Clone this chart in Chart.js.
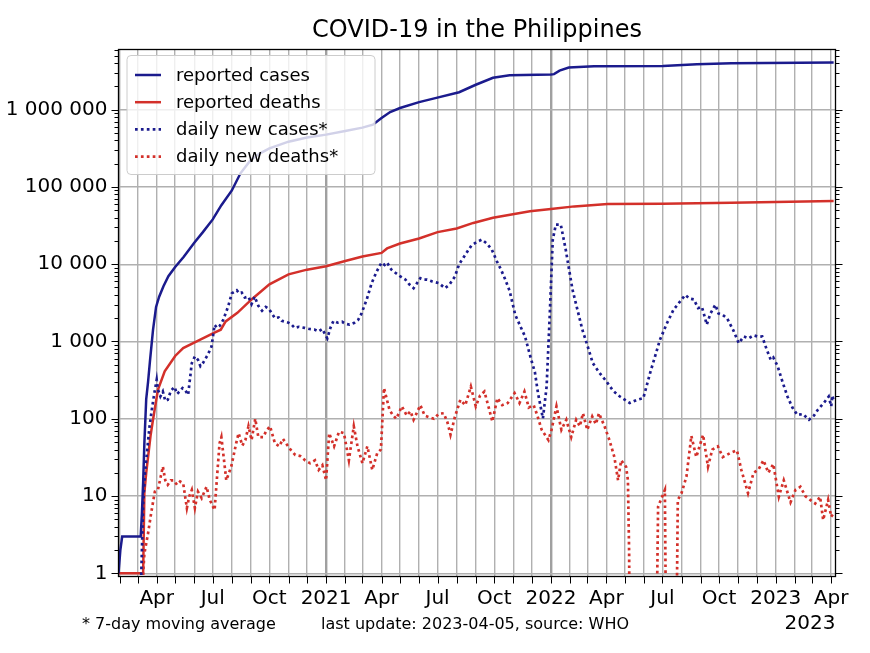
<!DOCTYPE html>
<html>
<head>
<meta charset="utf-8">
<script src="https://cdn.jsdelivr.net/npm/chart.js@4.4.1/dist/chart.umd.min.js"></script>
<style>
  html, body { margin: 0; padding: 0; background: #fff; }
  #chart { display: block; }
</style>
</head>
<body>
<canvas id="chart" width="870" height="653"></canvas>
<script>
'use strict';

const FONT = '"DejaVu Sans", sans-serif';
const BLUE = '#1b1b8d';
const RED = '#d3302a';
const GRID = '#b0b0b0';
const DAY = 86400000;

// reported cases (cumulative)
const casesDates = ['2020-01-30', '2020-02-02', '2020-02-05', '2020-03-06', '2020-03-08', '2020-03-10', '2020-03-12',
  '2020-03-15', '2020-03-18', '2020-03-21', '2020-03-26', '2020-03-31', '2020-04-05', '2020-04-12', '2020-04-20',
  '2020-05-01', '2020-05-15', '2020-06-01', '2020-06-15', '2020-07-01', '2020-07-15', '2020-08-01', '2020-08-15',
  '2020-09-01', '2020-09-15', '2020-10-01', '2020-11-01', '2020-12-01', '2021-01-01', '2021-02-01', '2021-03-01',
  '2021-03-18', '2021-04-01', '2021-04-15', '2021-05-01', '2021-06-01', '2021-06-29', '2021-08-05', '2021-09-01',
  '2021-09-29', '2021-10-26', '2022-01-01', '2022-01-06', '2022-01-15', '2022-01-30', '2022-03-12', '2022-07-02',
  '2022-08-26', '2022-10-21', '2023-04-05'];
const casesTotal = [1, 2, 3, 3, 6, 15, 48,
  180, 300, 550, 1400, 2800, 3800, 5200, 7000,
  9200, 12500, 19000, 26000, 38000, 58000, 90000, 150000,
  225000, 270000, 315000, 385000, 435000, 475000, 530000, 585000,
  640000, 780000, 930000, 1050000, 1250000, 1420000, 1680000, 2100000,
  2580000, 2790000, 2840000, 2880000, 3200000, 3500000, 3650000, 3680000,
  3880000, 3970000, 4070000];

// reported deaths (cumulative)
const deathsDates = ['2020-01-30', '2020-03-10', '2020-03-12', '2020-03-15', '2020-03-18', '2020-03-22', '2020-03-26',
  '2020-04-03', '2020-04-14', '2020-05-01', '2020-05-14', '2020-06-05', '2020-07-03', '2020-07-14', '2020-07-22',
  '2020-08-10', '2020-09-02', '2020-10-01', '2020-11-01', '2020-12-01', '2021-01-01', '2021-02-01', '2021-03-01',
  '2021-04-01', '2021-04-10', '2021-05-01', '2021-06-01', '2021-07-01', '2021-08-01', '2021-08-28', '2021-09-29',
  '2021-11-28', '2022-01-01', '2022-02-08', '2022-04-03', '2022-07-01', '2022-10-21', '2023-04-05'];
const deathsTotal = [1, 1, 11, 20, 32, 60, 97,
  237, 410, 650, 820, 1000, 1290, 1420, 1820,
  2350, 3500, 5500, 7400, 8500, 9400, 11000, 12600,
  14000, 16000, 18500, 21500, 26000, 29000, 34200, 39800,
  48300, 51900, 56000, 60300, 60500, 62500, 65500];

// daily new cases, 7-day moving average
const newCasesDates = ['2020-03-05', '2020-03-07', '2020-03-10', '2020-03-13', '2020-03-16', '2020-03-20', '2020-03-24',
  '2020-03-28', '2020-04-01', '2020-04-03', '2020-04-07', '2020-04-11', '2020-04-15', '2020-04-19', '2020-04-24',
  '2020-04-30', '2020-05-04', '2020-05-08', '2020-05-13', '2020-05-17', '2020-05-22', '2020-05-28', '2020-06-02',
  '2020-06-07', '2020-06-11', '2020-06-15', '2020-06-23', '2020-06-29', '2020-07-04', '2020-07-08', '2020-07-12',
  '2020-07-18', '2020-07-26', '2020-08-01', '2020-08-09', '2020-08-13', '2020-08-17', '2020-08-22', '2020-08-28',
  '2020-09-02', '2020-09-07', '2020-09-13', '2020-09-19', '2020-09-25', '2020-09-30', '2020-10-05', '2020-10-10',
  '2020-10-16', '2020-10-21', '2020-10-27', '2020-11-01', '2020-11-06', '2020-11-11', '2020-11-18', '2020-11-27',
  '2020-12-05', '2020-12-13', '2020-12-20', '2020-12-26', '2021-01-01', '2021-01-03', '2021-01-08', '2021-01-13',
  '2021-01-20', '2021-01-27', '2021-02-01', '2021-02-08', '2021-02-16', '2021-02-22', '2021-02-27', '2021-03-08',
  '2021-03-16', '2021-03-24', '2021-04-01', '2021-04-06', '2021-04-10', '2021-04-17', '2021-04-24', '2021-05-01',
  '2021-05-10', '2021-05-16', '2021-05-23', '2021-05-28', '2021-06-03', '2021-06-09', '2021-06-14', '2021-06-22',
  '2021-07-03', '2021-07-13', '2021-07-20', '2021-07-29', '2021-08-05', '2021-08-17', '2021-08-25', '2021-09-03',
  '2021-09-11', '2021-09-19', '2021-09-27', '2021-10-05', '2021-10-12', '2021-10-19', '2021-10-26', '2021-11-04',
  '2021-11-12', '2021-11-20', '2021-11-30', '2021-12-06', '2021-12-11', '2021-12-19', '2021-12-25', '2021-12-30',
  '2022-01-04', '2022-01-09', '2022-01-17', '2022-01-25', '2022-02-05', '2022-02-14', '2022-02-21', '2022-03-01',
  '2022-03-10', '2022-03-20', '2022-04-01', '2022-04-12', '2022-04-23', '2022-05-09', '2022-05-20', '2022-05-31',
  '2022-06-11', '2022-06-27', '2022-07-08', '2022-07-19', '2022-08-07', '2022-08-14', '2022-08-21', '2022-08-28',
  '2022-09-03', '2022-09-06', '2022-09-11', '2022-09-17', '2022-09-25', '2022-09-30', '2022-10-07', '2022-10-14',
  '2022-10-24', '2022-11-02', '2022-11-10', '2022-11-18', '2022-11-26', '2022-12-04', '2022-12-10', '2022-12-17',
  '2022-12-24', '2022-12-28', '2023-01-04', '2023-01-12', '2023-01-20', '2023-01-28', '2023-02-05', '2023-02-14',
  '2023-02-24', '2023-03-04', '2023-03-10', '2023-03-20', '2023-03-28', '2023-04-01', '2023-04-03', '2023-04-05'];
const newCases = [0, 1, 8, 20, 35, 75, 130,
  210, 320, 240, 195, 225, 170, 176, 230,
  258, 210, 224, 250, 237, 204, 525, 640,
  580, 480, 525, 675, 860, 1640, 1500, 1580,
  1900, 2840, 4200, 4600, 4200, 4300, 3700, 3800,
  3050, 3800, 2900, 2500, 2800, 2650, 2300, 2000,
  2050, 1850, 1800, 1750, 1650, 1500, 1550, 1500,
  1450, 1430, 1350, 1450, 1170, 1100, 1500, 1850,
  1750, 1800, 1700, 1650, 1750, 1900, 2250, 3500,
  5700, 8000, 10500, 9800, 10500, 8500, 7700, 7000,
  6300, 5500, 4900, 5600, 6600, 6300, 6300, 6000,
  5700, 4900, 5400, 6900, 10000, 14000, 17500, 19500,
  20800, 18500, 15500, 11000, 8500, 6300, 4500, 2220,
  1600, 1160, 580, 400, 215, 101, 260, 2100,
  20800, 32600, 32600, 15500, 4700, 2400, 1420, 900,
  525, 400, 305, 230, 194, 160, 175, 185,
  390, 1050, 1700, 2570, 4000, 3600, 3500, 2700,
  2800, 2330, 1650, 2300, 2990, 2300, 2200, 2000,
  1400, 950, 1160, 1100, 1200, 1150, 1160, 800,
  580, 620, 480, 300, 194, 140, 112, 115,
  97, 110, 130, 160, 194, 145, 200, 170];

// daily new deaths, 7-day moving average (0 = no deaths, falls below the axis)
const newDeathsDates = ['2020-03-09', '2020-03-10', '2020-03-12', '2020-03-18', '2020-03-23', '2020-03-29', '2020-04-03',
  '2020-04-11', '2020-04-15', '2020-04-19', '2020-04-24', '2020-04-28', '2020-05-04', '2020-05-09', '2020-05-14',
  '2020-05-20', '2020-05-24', '2020-05-28', '2020-06-02', '2020-06-07', '2020-06-13', '2020-06-21', '2020-06-26',
  '2020-07-04', '2020-07-12', '2020-07-15', '2020-07-23', '2020-07-31', '2020-08-08', '2020-08-12', '2020-08-18',
  '2020-08-23', '2020-08-28', '2020-09-02', '2020-09-08', '2020-09-13', '2020-09-21', '2020-09-26', '2020-10-02',
  '2020-10-10', '2020-10-17', '2020-10-23', '2020-10-28', '2020-11-04', '2020-11-12', '2020-11-20', '2020-11-28',
  '2020-12-06', '2020-12-14', '2020-12-20', '2020-12-26', '2021-01-01', '2021-01-06', '2021-01-14', '2021-01-22',
  '2021-01-30', '2021-02-07', '2021-02-15', '2021-02-21', '2021-03-01', '2021-03-09', '2021-03-17', '2021-03-25',
  '2021-03-31', '2021-04-05', '2021-04-14', '2021-04-20', '2021-04-25', '2021-05-04', '2021-05-12', '2021-05-18',
  '2021-05-23', '2021-06-03', '2021-06-10', '2021-06-17', '2021-06-25', '2021-07-03', '2021-07-11', '2021-07-17',
  '2021-07-22', '2021-07-29', '2021-08-07', '2021-08-15', '2021-08-24', '2021-09-01', '2021-09-08', '2021-09-15',
  '2021-09-21', '2021-09-28', '2021-10-06', '2021-10-14', '2021-10-23', '2021-11-03', '2021-11-11', '2021-11-19',
  '2021-11-26', '2021-12-04', '2021-12-10', '2021-12-17', '2021-12-28', '2022-01-02', '2022-01-10', '2022-01-18',
  '2022-01-26', '2022-02-03', '2022-02-11', '2022-02-17', '2022-02-22', '2022-03-01', '2022-03-09', '2022-03-15',
  '2022-03-20', '2022-03-29', '2022-04-06', '2022-04-14', '2022-04-20', '2022-04-25', '2022-05-03', '2022-05-06',
  '2022-05-08', '2022-05-10', '2022-06-18', '2022-06-24', '2022-07-05', '2022-07-09', '2022-07-21', '2022-07-26',
  '2022-08-01', '2022-08-09', '2022-08-17', '2022-08-25', '2022-09-05', '2022-09-13', '2022-09-20', '2022-09-29',
  '2022-10-07', '2022-10-19', '2022-10-30', '2022-11-06', '2022-11-17', '2022-11-26', '2022-12-04', '2022-12-12',
  '2022-12-20', '2022-12-28', '2023-01-06', '2023-01-14', '2023-01-25', '2023-02-02', '2023-02-10', '2023-02-18',
  '2023-02-26', '2023-03-06', '2023-03-14', '2023-03-19', '2023-03-27', '2023-04-01', '2023-04-05'];
const newDeaths = [0, 1, 1.8, 3.3, 6, 11.4, 12,
  24, 16, 14, 16, 16, 14, 15.4, 14.6,
  7, 10, 12, 7, 11.4, 9.4, 13.2, 9,
  6.6, 48, 58, 16, 24, 48, 65, 45,
  53, 80, 53, 100, 58, 58, 70, 80,
  48, 44, 55, 48, 40, 34, 33, 29,
  26.6, 29, 21.8, 25, 16, 65, 44, 68,
  65, 29, 80, 44, 26.6, 44, 21.8, 35.8,
  40, 250, 130, 110, 100, 145, 110, 125,
  97, 150, 110, 105, 100, 116, 118, 90,
  62, 105, 176, 150, 261, 145, 200, 225,
  150, 92, 185, 150, 160, 215, 160, 225,
  140, 150, 110, 72, 53, 72, 145, 72,
  97, 58, 97, 80, 118, 72, 107, 85,
  118, 80, 53, 32, 16, 29, 24, 16,
  1.8, 0, 0, 7.3, 12, 0, 0, 8.9,
  10.9, 17.8, 60, 32, 62, 24, 40, 44,
  32, 36, 39, 22, 10.9, 20, 22, 29,
  20, 26, 9.8, 16, 8.3, 12, 13.2, 10,
  8.9, 8, 9.8, 4.9, 8.9, 5.4, 6];

// axis ticks
const yDecades = [1, 10, 100, 1000, 10000, 100000, 1000000];
const yLabels = ['1', '10', '100', '1 000', '10 000', '100 000', '1 000 000'];
const monthLabels = ['', '', '', 'Apr', '', '', 'Jul', '', '', 'Oct', '', ''];
const markedYears = [2021, 2022];
const xStart = '2020-01-30';
const xEnd = '2023-04-08';

const day = s => Date.parse(s + 'T00:00:00Z') / DAY;
const toPoints = (dates, values) => dates.map((d, i) => ({ x: day(d), y: values[i] > 0 ? values[i] : 1e-3 }));
const isDecade = v => Math.abs(Math.log10(v) - Math.round(Math.log10(v))) < 1e-9;

function monthTicks() {
  const ticks = [];
  const start = new Date(xStart + 'T00:00:00Z');
  let y = start.getUTCFullYear();
  let m = start.getUTCMonth() + 1;
  const end = day(xEnd);
  for (;;) {
    if (m > 11) { m = 0; y++; }
    const v = Date.UTC(y, m, 1) / DAY;
    if (v > end) break;
    ticks.push({ value: v, month: m, year: y });
    m++;
  }
  return ticks;
}

function logTicks(min, max) {
  const ticks = [];
  for (let e = -1; e <= 7; e++) {
    for (let s = 1; s <= 9; s++) {
      const v = s * Math.pow(10, e);
      if (v >= min && v <= max) ticks.push({ value: v, major: s === 1 });
    }
  }
  return ticks;
}

const X_TICKS = monthTicks();
const isMarkedYear = i => X_TICKS[i] && X_TICKS[i].month === 0 && markedYears.includes(X_TICKS[i].year);

const frame = {
  id: 'frame',
  afterDraw(chart) {
    const { ctx, chartArea: a, scales: { x, y } } = chart;
    ctx.save();

    // tick marks (outward), both y sides, bottom x
    ctx.strokeStyle = '#000';
    ctx.lineWidth = 1;
    ctx.beginPath();
    y.ticks.forEach(t => {
      const py = Math.round(y.getPixelForValue(t.value)) + 0.5;
      if (py < a.top || py > a.bottom + 1) return;
      const len = isDecade(t.value) ? 7 : 4;
      ctx.moveTo(a.left - len, py); ctx.lineTo(a.left, py);
      ctx.moveTo(a.right, py); ctx.lineTo(a.right + len, py);
    });
    x.ticks.forEach(t => {
      const px = Math.round(x.getPixelForValue(t.value)) + 0.5;
      ctx.moveTo(px, a.bottom); ctx.lineTo(px, a.bottom + 7);
    });
    ctx.stroke();

    // frame
    ctx.lineWidth = 1.3;
    ctx.strokeRect(a.left, a.top, a.right - a.left, a.bottom - a.top);

    // legend
    const lx = 127, ly = 55.5, lw = 248, lh = 119;
    ctx.beginPath();
    if (ctx.roundRect) ctx.roundRect(lx, ly, lw, lh, 4); else ctx.rect(lx, ly, lw, lh);
    ctx.fillStyle = 'rgba(255,255,255,0.8)';
    ctx.fill();
    ctx.strokeStyle = '#cccccc';
    ctx.lineWidth = 1;
    ctx.stroke();
    ctx.font = '18px ' + FONT;
    ctx.textBaseline = 'middle';
    ctx.textAlign = 'left';
    chart.data.datasets.forEach((ds, i) => {
      const ry = 75 + i * 27.2;
      ctx.beginPath();
      ctx.strokeStyle = ds.borderColor;
      ctx.lineWidth = ds.borderWidth;
      ctx.setLineDash(ds.borderDash || []);
      ctx.moveTo(135, ry);
      ctx.lineTo(161, ry);
      ctx.stroke();
      ctx.setLineDash([]);
      ctx.fillStyle = '#000';
      ctx.fillText(ds.label, 176, ry + 1);
    });

    // title and notes
    ctx.fillStyle = '#000';
    ctx.textAlign = 'center';
    ctx.font = '24px ' + FONT;
    ctx.fillText('COVID-19 in the Philippines', (a.left + a.right) / 2, 31);
    ctx.font = '16px ' + FONT;
    ctx.textAlign = 'left';
    ctx.fillText('* 7-day moving average', 82, 625);
    ctx.fillText('last update: 2023-04-05, source: WHO', 321, 625);
    ctx.font = '20px ' + FONT;
    ctx.textAlign = 'right';
    ctx.fillText(String(X_TICKS[X_TICKS.length - 1].year), a.right, 624);
    ctx.restore();
  }
};

Chart.defaults.font.family = FONT;
Chart.defaults.color = '#000';

const lineStyle = { pointRadius: 0, tension: 0, fill: false, clip: 0, borderCapStyle: 'butt' };

new Chart(document.getElementById('chart'), {
  type: 'line',
  data: {
    datasets: [
      { ...lineStyle, label: 'reported cases', data: toPoints(casesDates, casesTotal), borderColor: BLUE, borderWidth: 2.5, order: 1 },
      { ...lineStyle, label: 'reported deaths', data: toPoints(deathsDates, deathsTotal), borderColor: RED, borderWidth: 2.5, order: 1 },
      { ...lineStyle, label: 'daily new cases*', data: toPoints(newCasesDates, newCases), borderColor: BLUE, borderWidth: 2.7, borderDash: [2.7, 3.2], order: 0 },
      { ...lineStyle, label: 'daily new deaths*', data: toPoints(newDeathsDates, newDeaths), borderColor: RED, borderWidth: 2.7, borderDash: [2.7, 3.2], order: 0 }
    ]
  },
  options: {
    responsive: false,
    animation: false,
    layout: { padding: { left: 0, right: 34.5, top: 49.5, bottom: 0 } },
    plugins: { legend: { display: false }, title: { display: false }, tooltip: { enabled: false } },
    scales: {
      x: {
        type: 'linear',
        min: day(xStart),
        max: day(xEnd),
        afterBuildTicks: scale => { scale.ticks = X_TICKS.map(t => ({ value: t.value })); },
        afterFit: scale => { scale.height = 76.5; },
        ticks: {
          autoSkip: false,
          maxRotation: 0,
          minRotation: 0,
          padding: 10,
          font: { size: 20 },
          callback: (value, i) => {
            const t = X_TICKS[i];
            return t.month === 0 ? String(t.year) : monthLabels[t.month];
          }
        },
        grid: {
          drawTicks: false,
          color: ctx => (ctx.tick && isMarkedYear(ctx.index) ? '#a0a0a0' : GRID),
          lineWidth: ctx => (ctx.tick && isMarkedYear(ctx.index) ? 2.4 : 1.4)
        },
        border: { display: false }
      },
      y: {
        type: 'logarithmic',
        min: 0.91,
        max: 6e6,
        afterBuildTicks: scale => { scale.ticks = logTicks(scale.min, scale.max); },
        afterFit: scale => { scale.width = 118.5; },
        ticks: {
          autoSkip: false,
          padding: 11,
          font: { size: 20 },
          callback: value => {
            const i = yDecades.findIndex(d => Math.abs(d - value) < 1e-6 * d);
            return i >= 0 ? yLabels[i] : '';
          }
        },
        grid: {
          drawTicks: false,
          color: ctx => (ctx.tick && isDecade(ctx.tick.value) && ctx.tick.value >= 1 ? GRID : 'rgba(0,0,0,0)'),
          lineWidth: 1.4
        },
        border: { display: false }
      }
    }
  },
  plugins: [frame]
});
</script>
</body>
</html>
